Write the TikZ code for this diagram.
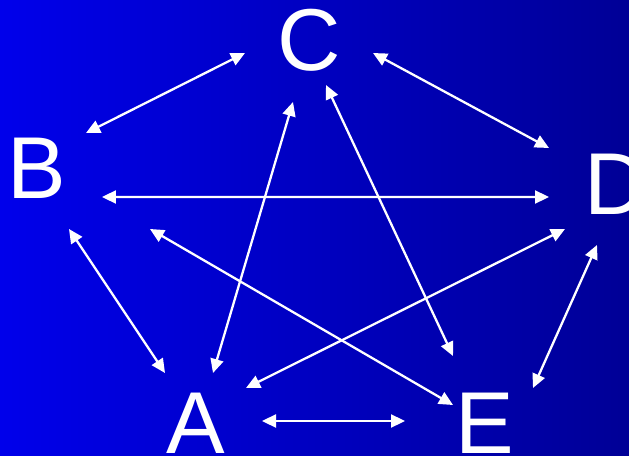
\documentclass[tikz,border=0pt]{standalone}
\usepackage{fontspec}
\setmainfont{Liberation Sans}
\usetikzlibrary{arrows.meta}
\definecolor{bgleft}{RGB}{0,0,235}
\definecolor{bgmid}{RGB}{0,0,205}
\definecolor{bgright}{RGB}{0,0,150}

\begin{document}
\begin{tikzpicture}[x=0.02cm, y=-0.02cm,
  letter/.style={text=white, inner sep=0pt, font=\fontsize{50}{60}\selectfont},
  link/.style={white, line width=1.3pt,
    {Triangle[length=0.28cm,width=0.26cm]}-{Triangle[length=0.28cm,width=0.26cm]}}]
\shade[left color=bgleft, middle color=bgmid, right color=bgright] (0,0) rectangle (629,456);
\useasboundingbox (0,0) rectangle (629,456);
\node[letter] (C) at (309,40) {C};
\node[letter] (B) at (36.5,168) {B};
\node[letter] (D) at (616,184.5) {D};
\node[letter] (A) at (196,423.5) {A};
\node[letter] (E) at (485,423.5) {E};
% outer ring
\draw[link] ([shift={(-64,13)}]C.center) -- ([shift={(49.5,-35)}]B.center);
\draw[link] ([shift={(64,13)}]C.center) -- ([shift={(-67,-36.5)}]D.center);
\draw[link] ([shift={(32.5,61)}]B.center) -- ([shift={(-31,-50.5)}]A.center);
\draw[link] ([shift={(-19,60.5)}]D.center) -- ([shift={(48,-35.5)}]E.center);
\draw[link] ([shift={(66,-2.5)}]A.center) -- ([shift={(-80,-2.5)}]E.center);
% star
\draw[link] ([shift={(65.5,29)}]B.center) -- ([shift={(-67,12.5)}]D.center);
\draw[link] ([shift={(17,-50.5)}]A.center) -- ([shift={(-16,62)}]C.center);
\draw[link] ([shift={(17,45)}]C.center) -- ([shift={(-32,-67.5)}]E.center);
\draw[link] ([shift={(113.5,61)}]B.center) -- ([shift={(-32,-18.5)}]E.center);
\draw[link] ([shift={(50,-35.5)}]A.center) -- ([shift={(-51,44.5)}]D.center);
\end{tikzpicture}
\end{document}
